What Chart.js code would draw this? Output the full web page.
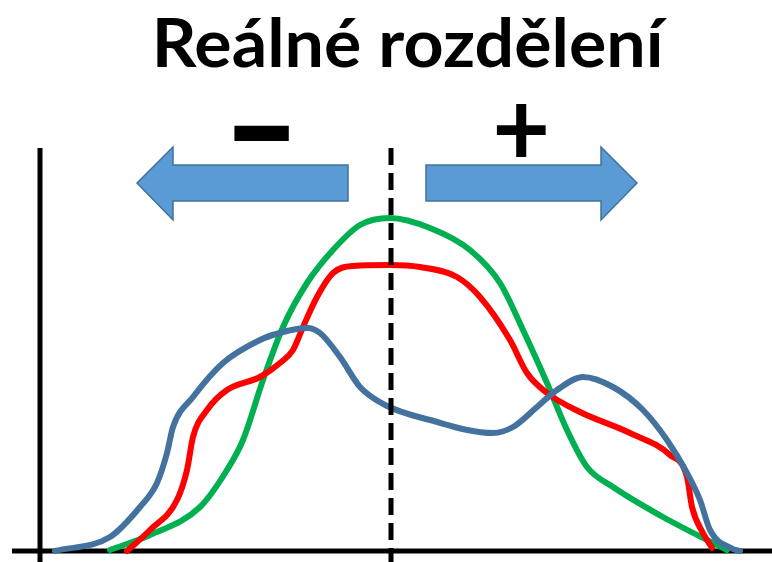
<!DOCTYPE html>
<html>
<head>
<meta charset="utf-8">
<script src="https://cdn.jsdelivr.net/npm/chart.js@4"></script>
<style>
  html, body { margin: 0; padding: 0; background: #fff; }
  #wrap { width: 772px; height: 562px; }
</style>
</head>
<body>
<div id="wrap"><canvas id="c" width="772" height="562"></canvas></div>
<script>
// values (x from y-axis, y above baseline)
let blueX = [15, 70, 100, 117, 127, 133, 153, 183, 220, 243, 267, 280, 300, 320, 345, 390, 453, 473, 497, 517, 543, 573, 603, 627, 647, 660, 670, 693, 700]
let blueY = [0, 14, 44, 68, 98, 124, 154, 188, 211, 219, 223, 218, 194, 164, 146, 131, 118, 124, 144, 161, 174, 164, 141, 111, 78, 51, 21, 2, 0]

let redX = [87, 110, 137, 147, 153, 167, 187, 220, 240, 253, 263, 277, 293, 313, 350, 380, 417, 440, 470, 487, 507, 540, 590, 630, 647, 652, 663, 672]
let redY = [0, 21, 51, 81, 114, 141, 161, 174, 188, 201, 224, 254, 278, 285, 286, 284, 274, 254, 211, 178, 158, 139, 118, 96, 74, 44, 18, 3]

let greenX = [70, 110, 160, 187, 203, 223, 243, 267, 293, 320, 350, 390, 430, 460, 483, 507, 527, 547, 573, 623, 673, 687]
let greenY = [1, 16, 44, 81, 111, 171, 224, 268, 301, 326, 333, 323, 301, 268, 221, 168, 121, 84, 64, 34, 8, 1]

let centerX = 351
let titleText = 'Reálné rozdělení'

function pts(xs, ys) {
    let out = []
    for (let i = 0; i < xs.length; i++) out.push({x: xs[i], y: ys[i]})
    return out
}

function arrow(ctx, pts) {
    ctx.beginPath()
    ctx.moveTo(pts[0][0], pts[0][1])
    for (let i = 1; i < pts.length; i++) ctx.lineTo(pts[i][0], pts[i][1])
    ctx.closePath()
    ctx.fillStyle = '#5B9BD5'
    ctx.fill()
    ctx.lineWidth = 1.5
    ctx.strokeStyle = '#41719C'
    ctx.stroke()
}

// draw text stretched into a box (glyph bounds)
function fitText(ctx, text, font, x0, y0, x1, y1) {
    ctx.save()
    ctx.font = font
    ctx.textAlign = 'left'
    ctx.textBaseline = 'alphabetic'
    let m = ctx.measureText(text)
    let w = m.actualBoundingBoxLeft + m.actualBoundingBoxRight
    let h = m.actualBoundingBoxAscent + m.actualBoundingBoxDescent
    ctx.translate(x0, y0)
    ctx.scale((x1 - x0) / w, (y1 - y0) / h)
    ctx.fillText(text, m.actualBoundingBoxLeft, m.actualBoundingBoxAscent)
    ctx.restore()
}

let decor = {
    id: 'decor',
    beforeDatasetsDraw(chart) {
        let ctx = chart.ctx
        let xs = chart.scales.x, ys = chart.scales.y
        let x0 = xs.getPixelForValue(0), y0 = ys.getPixelForValue(0)
        ctx.save()
        ctx.strokeStyle = '#000'
        ctx.lineWidth = 5
        ctx.beginPath()
        ctx.moveTo(x0, ys.getPixelForValue(403))
        ctx.lineTo(x0, 562)
        ctx.moveTo(12, y0)
        ctx.lineTo(772, y0)
        ctx.stroke()
        ctx.restore()
    },
    afterDatasetsDraw(chart) {
        let ctx = chart.ctx
        let xs = chart.scales.x, ys = chart.scales.y
        let cx = xs.getPixelForValue(centerX)
        ctx.save()
        // dashed centre line
        ctx.strokeStyle = '#000'
        ctx.lineWidth = 5
        ctx.setLineDash([17, 8])
        ctx.beginPath()
        ctx.moveTo(cx, ys.getPixelForValue(403))
        ctx.lineTo(cx, 562)
        ctx.stroke()
        ctx.setLineDash([])
        // arrows
        arrow(ctx, [[137, 183], [173, 147], [173, 165], [348, 165], [348, 201], [173, 201], [173, 220]])
        arrow(ctx, [[637, 183], [601, 147], [601, 165], [426, 165], [426, 201], [601, 201], [601, 220]])
        // title: cap height ~47px, stretched to the width of the original
        ctx.fillStyle = '#000'
        ctx.font = 'bold 66px Lato'
        ctx.textAlign = 'left'
        ctx.textBaseline = 'alphabetic'
        let m = ctx.measureText(titleText)
        let tw = m.actualBoundingBoxLeft + m.actualBoundingBoxRight
        ctx.save()
        ctx.translate(157, 67)
        ctx.scale(511 / tw, 1)
        ctx.fillText(titleText, m.actualBoundingBoxLeft, 0)
        ctx.restore()
        // signs
        fitText(ctx, '−', '900 80px Lato', 234, 124, 290, 141)
        fitText(ctx, '+', 'bold 80px Lato', 496, 103, 546, 157)
        ctx.restore()
    }
}

new Chart(document.getElementById('c'), {
    type: 'line',
    data: {
        datasets: [
            {data: pts(blueX, blueY), borderColor: '#44729E', borderWidth: 6},
            {data: pts(redX, redY), borderColor: '#FF0000', borderWidth: 6},
            {data: pts(greenX, greenY), borderColor: '#00B050', borderWidth: 6}
        ]
    },
    options: {
        responsive: false,
        animation: false,
        layout: {padding: {left: 40, top: 148, right: 0, bottom: 11}},
        elements: {
            point: {radius: 0},
            line: {cubicInterpolationMode: 'monotone', borderCapStyle: 'round', borderJoinStyle: 'round'}
        },
        datasets: {line: {clip: false, fill: false}},
        plugins: {legend: {display: false}, tooltip: {enabled: false}},
        scales: {
            x: {type: 'linear', min: 0, max: 732, display: false},
            y: {min: 0, max: 403, display: false}
        }
    },
    plugins: [decor]
})
</script>
</body>
</html>
